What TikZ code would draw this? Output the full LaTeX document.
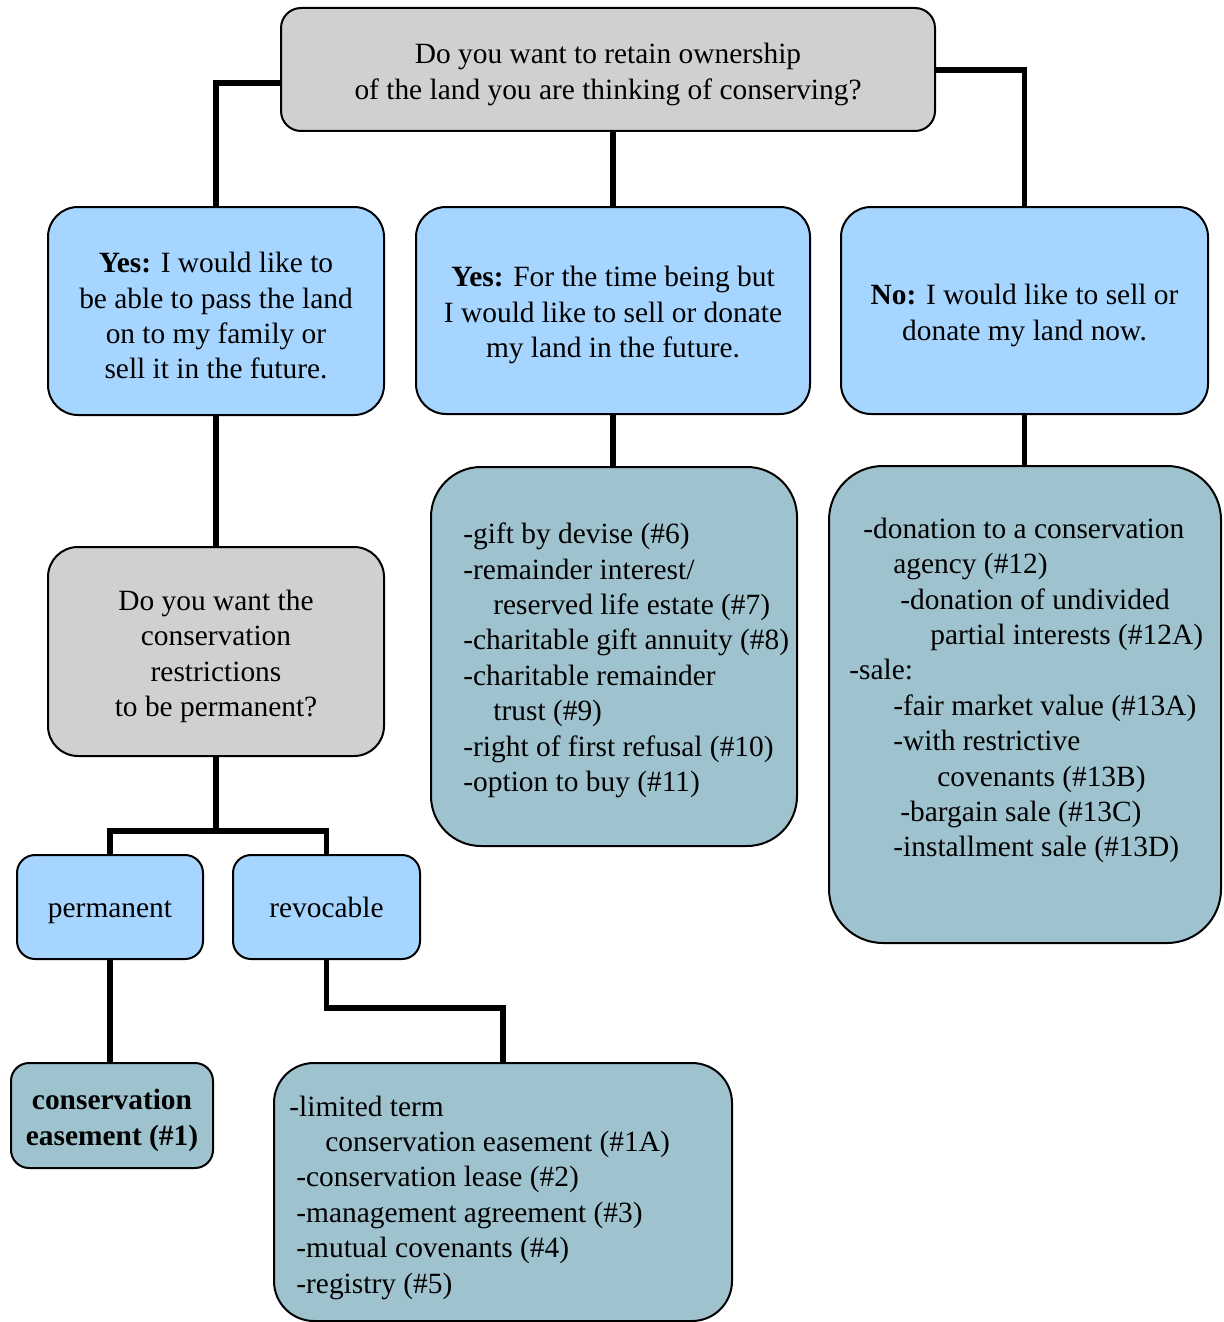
\documentclass[tikz,border=0pt]{standalone}
\usepackage{fontspec}
\setmainfont{Liberation Serif}
\definecolor{boxblue}{RGB}{166,213,255}
\definecolor{boxgray}{RGB}{208,208,208}
\definecolor{boxteal}{RGB}{158,195,206}
\begin{document}
\begin{tikzpicture}[x=0.5pt,y=-0.5pt,
  txt/.style={font=\fontsize{14.7}{17.7}\selectfont},
  box/.style={draw=black, line width=1pt, inner sep=0pt, align=center, txt},
  boxtext/.style={txt, inner sep=0pt, align=center, yshift=-2.4pt},
  qbox/.style={box, fill=boxgray, rounded corners=#1},
  abox/.style={box, fill=boxblue, rounded corners=#1},
  lbox/.style={box, fill=boxteal, rounded corners=#1},
  listtext/.style={txt, inner sep=0pt, align=left, anchor=west},
  conn/.style={draw=black, line width=2.6pt}]
\useasboundingbox[fill=white] (0,0) rectangle (1224,1322);

% boxes
\node[qbox=10pt, minimum width=327pt, minimum height=61.5pt,
  label={[boxtext]center:{Do you want to retain ownership\\of the land you are thinking of conserving?}}]
  (top) at (608,69.5) {};
\node[abox=15pt, minimum width=168pt, minimum height=104pt,
  label={[boxtext]center:{\textbf{Yes:} I would like to\\be able to pass the land\\on to my family or\\sell it in the future.}}]
  (yes1) at (216,311) {};
\node[abox=15pt, minimum width=197pt, minimum height=103.5pt,
  label={[boxtext]center:{\textbf{Yes:} For the time being but\\I would like to sell or donate\\my land in the future.}}]
  (yes2) at (613,310.5) {};
\node[abox=15pt, minimum width=183.5pt, minimum height=103.5pt,
  label={[boxtext]center:{\textbf{No:} I would like to sell or\\donate my land now.}}]
  (no) at (1024.5,310.5) {};
\node[qbox=15pt, minimum width=168pt, minimum height=104.5pt,
  label={[boxtext]center:{Do you want the\\conservation\\restrictions\\to be permanent?}}]
  (perm?) at (216,651.5) {};
\node[abox=9pt, minimum width=93pt, minimum height=52pt] (perm) at (110,907)
  {\rule[-3.5pt]{0pt}{17.5pt}permanent};
\node[abox=9pt, minimum width=93.5pt, minimum height=52pt] (revoc) at (326.5,907)
  {\rule[-3.5pt]{0pt}{17.5pt}revocable};
\node[lbox=9pt, minimum width=101pt, minimum height=52.5pt,
  label={[boxtext]center:{\textbf{conservation}\\\textbf{easement (\#1)}}}]
  (ease) at (112,1115.5) {};
\node[lbox=20pt, minimum width=229pt, minimum height=129pt] (revlist) at (503,1192) {};
\node[lbox=25pt, minimum width=183pt, minimum height=189.5pt] (futlist) at (614,656.5) {};
\node[lbox=27pt, minimum width=196pt, minimum height=238.5pt] (nowlist) at (1025,704.5) {};

% list texts
\node[listtext] (futtext) at (463,660.5)
  {-gift by devise (\#6)\\
   -remainder interest/\\
   \hspace*{15pt}reserved life estate (\#7)\\
   -charitable gift annuity (\#8)\\
   -charitable remainder\\
   \hspace*{15pt}trust (\#9)\\
   -right of first refusal (\#10)\\
   -option to buy (\#11)};
\node[listtext] (nowtext) at (849,690.5)
  {\hspace*{7pt}-donation to a conservation\\
   \hspace*{22pt}agency (\#12)\\
   \hspace*{25.5pt}-donation of undivided\\
   \hspace*{40.5pt}partial interests (\#12A)\\
   -sale:\\
   \hspace*{22pt}-fair market value (\#13A)\\
   \hspace*{22pt}-with restrictive\\
   \hspace*{44pt}covenants (\#13B)\\
   \hspace*{25.5pt}-bargain sale (\#13C)\\
   \hspace*{22pt}-installment sale (\#13D)};
\node[listtext] (revtext) at (289,1197.5)
  {-limited term\\
   \hspace*{18pt}conservation easement (\#1A)\\
   \hspace*{3.5pt}-conservation lease (\#2)\\
   \hspace*{3.5pt}-management agreement (\#3)\\
   \hspace*{3.5pt}-mutual covenants (\#4)\\
   \hspace*{3.5pt}-registry (\#5)};

% connectors
\draw[conn] (top.west |- 0,83) -| (yes1.north);
\draw[conn] (top.east |- 0,70) -| (no.north);
\draw[conn] (yes2.north |- top.south) -- (yes2.north);
\draw[conn] (yes1.south) -- (perm?.north);
\draw[conn] (yes2.south) -- (yes2.south |- futlist.north);
\draw[conn] (no.south) -- (no.south |- nowlist.north);
\draw[conn] (perm?.south) -- (perm?.south |- 0,831);
\draw[conn] (perm.north) -- (perm.north |- 0,831) -- (revoc.north |- 0,831) -- (revoc.north);
\draw[conn] (perm.south) -- (perm.south |- ease.north);
\draw[conn] (revoc.south) -- (revoc.south |- 0,1008) -| (revlist.north);
\end{tikzpicture}
\end{document}
